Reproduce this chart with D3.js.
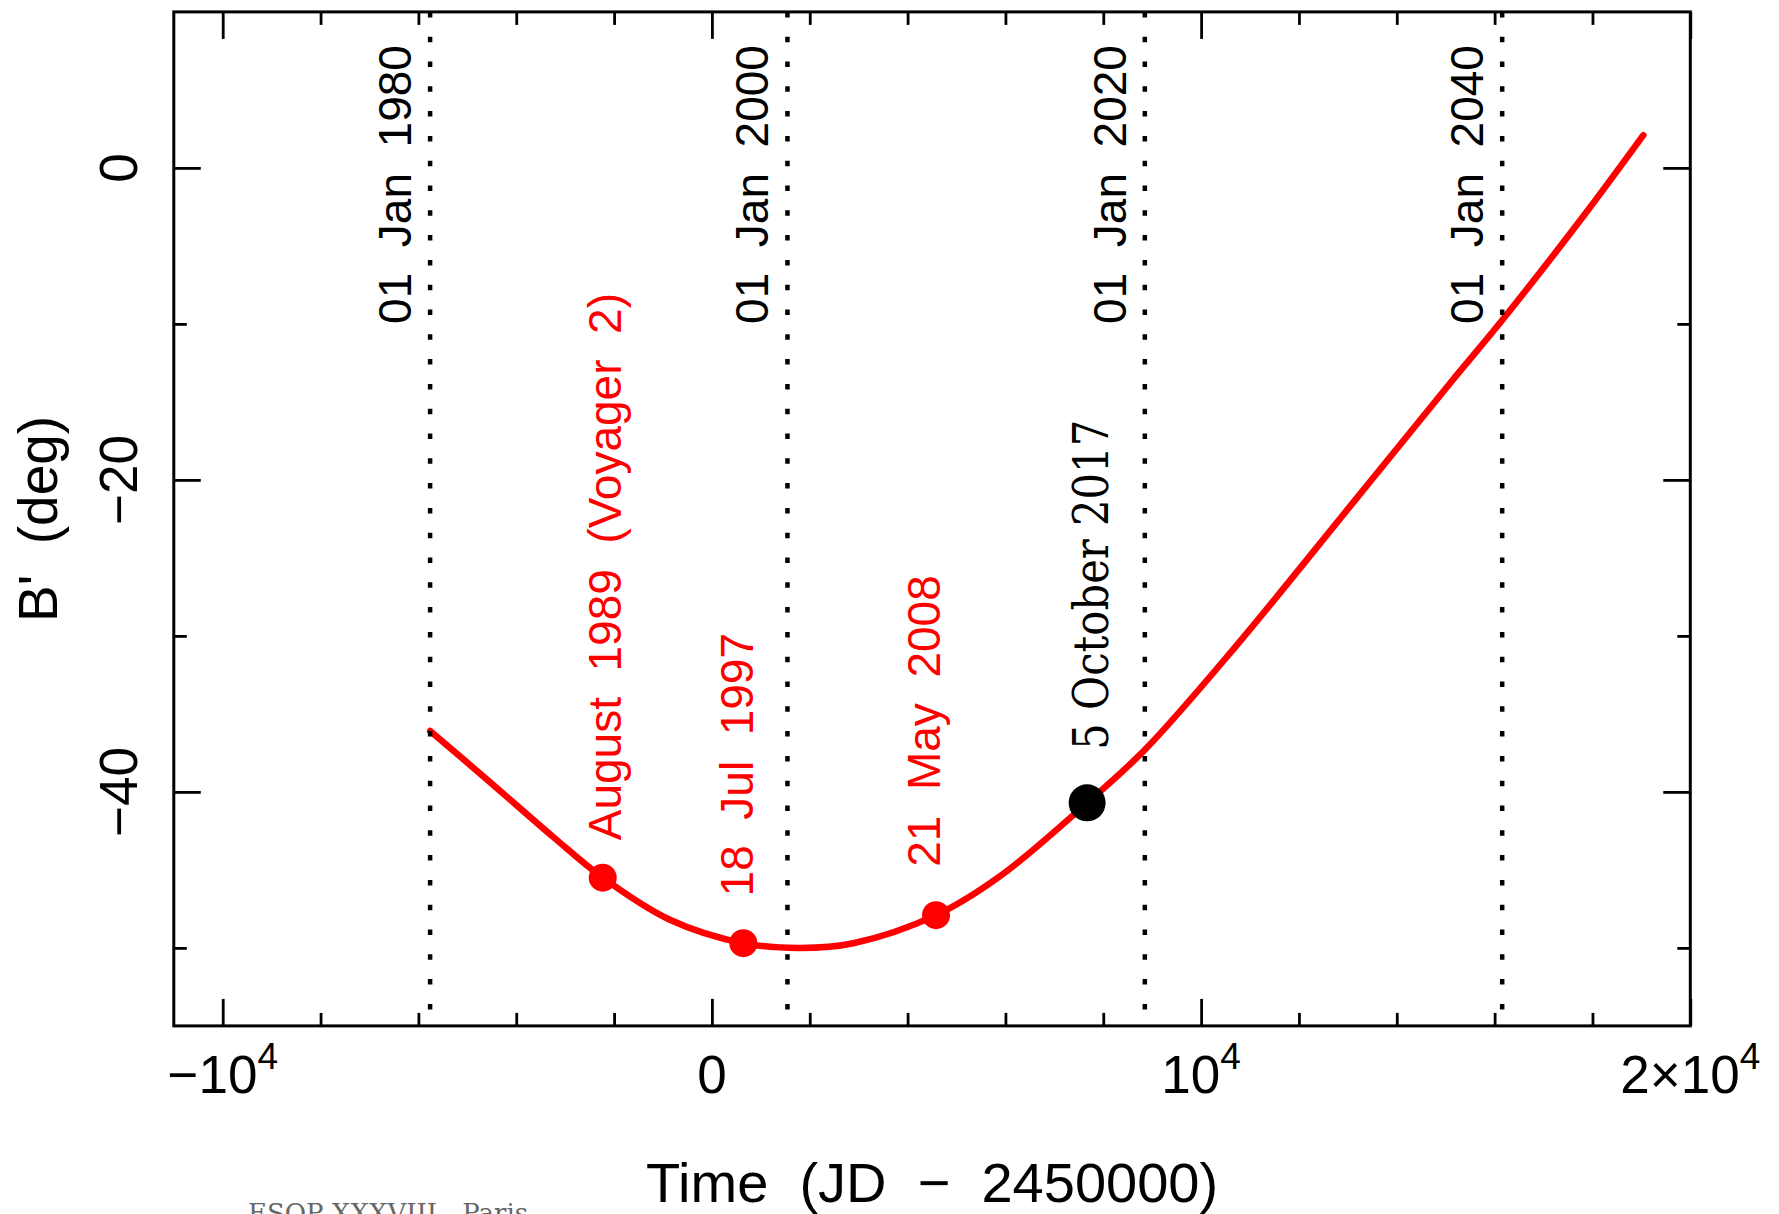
<!DOCTYPE html>
<html>
<head>
<meta charset="utf-8">
<script src="https://cdn.jsdelivr.net/npm/d3@7"></script>
<style>
  body { margin: 0; background: #fff; }
  svg { display: block; }
  text { font-family: 'Liberation Sans', Arial, sans-serif; fill: #000; white-space: pre; }
</style>
</head>
<body>
<div id="app"></div>
<script>
// B' curve (time in JD - 2450000, B' in deg)
const curveJD = [-5760, -4600, -3240, -2232, -860, 642, 1800, 2890, 4581, 5890, 7670, 8850, 10700, 13044, 15089, 16145, 17813, 19040]
const curveB = [-36.1, -39.2, -42.9, -45.5, -48.2, -49.7, -50.0, -49.7, -47.9, -45.4, -40.7, -37.3, -30.7, -21.7, -13.8, -9.8, -3.1, 2.1]

// red markers and their labels (label anchor in data units)
const eventJD = [-2232, 642, 4581]
const eventB = [-45.5, -49.7, -47.9]
const eventLabels = ['August  1989  (Voyager  2)', '18  Jul  1997', '21  May  2008']
const eventLabelJD = [-1858, 840, 4663]
const eventLabelB = [-43.1, -46.7, -44.8]

// black marker
const nowJD = [7670]
const nowB = [-40.7]
const nowLabels = ['5 October 2017']

// dotted year lines
const yearJD = [-5760.5, 1544.5, 8849.5, 16154.5]
const yearLabels = ['01  Jan  1980', '01  Jan  2000', '01  Jan  2020', '01  Jan  2040']
const yearLabelB = -10

// ticks
const xMajor = [-10000, 0, 10000, 20000]
const xMajorText = ['\u221210', '0', '10', '2\u00d710']
const xMajorSup = ['4', '', '4', '4']
const xMinor = [-8000, -6000, -4000, -2000, 2000, 4000, 6000, 8000, 12000, 14000, 16000, 18000]
const yMajor = [0, -20, -40]
const yMajorText = ['0', '\u221220', '\u221240']
const yMinor = [-10, -30, -50]

const W = 1779, H = 1214
const plotL = 173.8, plotR = 1690.3, plotT = 11.9, plotB = 1025.9

const svg = d3.select('#app').append('svg')
  .attr('width', W)
  .attr('height', H)

svg.append('rect').attr('width', W).attr('height', H).attr('fill', '#fff')

const x = d3.scaleLinear().domain([-11000, 20000]).range([plotL, plotR])
const y = d3.scaleLinear().domain([-55, 10]).range([plotB, plotT])

// inward ticks on all four sides
function tickSet(axis, values, size, transform) {
  svg.append('g')
    .attr('transform', transform)
    .call(axis.tickValues(values).tickSize(size).tickFormat(''))
    .call(g => g.select('.domain').remove())
    .selectAll('line')
    .attr('stroke', '#000')
    .attr('stroke-width', 2.8)
}
tickSet(d3.axisBottom(x), xMajor, -27, `translate(0,${plotB})`)
tickSet(d3.axisBottom(x), xMinor, -13, `translate(0,${plotB})`)
tickSet(d3.axisTop(x), xMajor, -27, `translate(0,${plotT})`)
tickSet(d3.axisTop(x), xMinor, -13, `translate(0,${plotT})`)
tickSet(d3.axisLeft(y), yMajor, -27, `translate(${plotL},0)`)
tickSet(d3.axisLeft(y), yMinor, -13, `translate(${plotL},0)`)
tickSet(d3.axisRight(y), yMajor, -27, `translate(${plotR},0)`)
tickSet(d3.axisRight(y), yMinor, -13, `translate(${plotR},0)`)

// frame
svg.append('rect')
  .attr('x', plotL).attr('y', plotT)
  .attr('width', plotR - plotL).attr('height', plotB - plotT)
  .attr('fill', 'none')
  .attr('stroke', '#000')
  .attr('stroke-width', 3)

// x tick labels with superscript exponent
xMajor.forEach((v, i) => {
  const t = svg.append('text')
    .attr('x', x(v)).attr('y', 1093)
    .attr('text-anchor', 'middle')
    .attr('font-size', 53)
  t.append('tspan').text(xMajorText[i])
  if (xMajorSup[i]) {
    t.append('tspan').attr('dy', -24).attr('font-size', 37).text(xMajorSup[i])
  }
})

// y tick labels, rotated
svg.selectAll('.ylab')
  .data(yMajor)
  .join('text')
  .attr('class', 'ylab')
  .attr('transform', d => `translate(137,${y(d)}) rotate(-90)`)
  .attr('text-anchor', 'middle')
  .attr('font-size', 53)
  .text((d, i) => yMajorText[i])

// axis titles
svg.append('text')
  .attr('x', (plotL + plotR) / 2).attr('y', 1202)
  .attr('text-anchor', 'middle')
  .attr('font-size', 56)
  .text('Time  (JD  \u2212  2450000)')

svg.append('text')
  .attr('transform', `translate(57,${(plotT + plotB) / 2}) rotate(-90)`)
  .attr('text-anchor', 'middle')
  .attr('font-size', 55)
  .text("B'  (deg)")

// curve
const line = d3.line()
  .x((d, i) => x(curveJD[i]))
  .y(d => y(d))
  .curve(d3.curveCatmullRom.alpha(0.5))

svg.append('path')
  .datum(curveB)
  .attr('d', line)
  .attr('fill', 'none')
  .attr('stroke', '#ff0000')
  .attr('stroke-width', 6.5)
  .attr('stroke-linecap', 'round')

// dotted year lines
svg.selectAll('.yline')
  .data(yearJD)
  .join('line')
  .attr('class', 'yline')
  .attr('x1', d => x(d)).attr('x2', d => x(d))
  .attr('y1', plotT).attr('y2', plotB)
  .attr('stroke', '#000')
  .attr('stroke-width', 4.5)
  .attr('stroke-dasharray', '5.5 19.3')

svg.selectAll('.ylabel')
  .data(yearJD)
  .join('text')
  .attr('class', 'ylabel')
  .attr('transform', d => `translate(${x(d) - 19},${y(yearLabelB)}) rotate(-90)`)
  .attr('font-size', 46)
  .text((d, i) => yearLabels[i])

// red markers
svg.selectAll('.ev')
  .data(eventJD)
  .join('circle')
  .attr('class', 'ev')
  .attr('cx', d => x(d))
  .attr('cy', (d, i) => y(eventB[i]))
  .attr('r', 14)
  .attr('fill', '#ff0000')

svg.selectAll('.evlab')
  .data(eventLabels)
  .join('text')
  .attr('class', 'evlab')
  .attr('transform', (d, i) => `translate(${x(eventLabelJD[i])},${y(eventLabelB[i])}) rotate(-90)`)
  .attr('font-size', 46)
  .style('fill', '#ff0000')
  .text(d => d)

// black marker
svg.selectAll('.now')
  .data(nowJD)
  .join('circle')
  .attr('class', 'now')
  .attr('cx', d => x(d))
  .attr('cy', (d, i) => y(nowB[i]))
  .attr('r', 18.5)
  .attr('fill', '#000')

svg.selectAll('.nowlab')
  .data(nowJD)
  .join('text')
  .attr('class', 'nowlab')
  .attr('transform', (d, i) => `translate(${x(d) + 21},${y(nowB[i]) - 53}) rotate(-90)`)
  .attr('font-size', 48)
  .attr('textLength', 330)
  .attr('lengthAdjust', 'spacingAndGlyphs')
  .style('font-family', "'DejaVu Serif', serif")
  .style('font-stretch', 'condensed')
  .text((d, i) => nowLabels[i])

// footer
svg.append('text')
  .attr('x', 248).attr('y', 1222)
  .attr('font-size', 26)
  .style('font-family', "'DejaVu Serif', serif")
  .style('fill', '#666')
  .text('ESOP XXXVIII - Paris')
</script>
</body>
</html>
